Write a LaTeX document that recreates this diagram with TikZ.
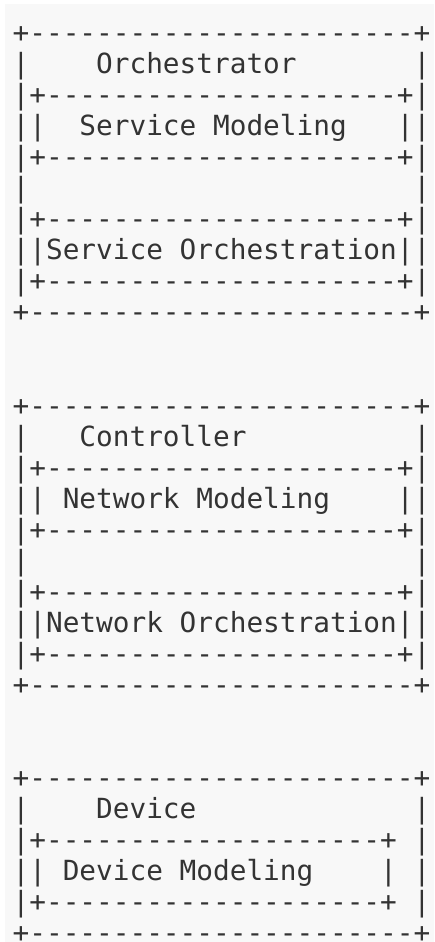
\documentclass[tikz,border=0pt]{standalone}
\usepackage{fontspec}
\setmonofont{DejaVu Sans Mono}
\usepackage{tikz}
\usetikzlibrary{positioning}
\definecolor{inkgrey}{HTML}{333333}
\definecolor{pagegrey}{HTML}{F8F8F8}
\newcommand{\asciifont}{\fontsize{13.875pt}{15.51pt}\selectfont\ttfamily}
\newcommand{\outerrule}{+-----------------------+}
\newcommand{\innerrule}{|+---------------------+|}
\newcommand{\shortrule}{|+--------------------+~|}
\newcommand{\emptyrow}{|~~~~~~~~~~~~~~~~~~~~~~~|}
\tikzset{
    layer/.style={inner sep=0pt, outer sep=0pt, font=\asciifont, text=inkgrey, anchor=north west},
}
\begin{document}
\begin{tikzpicture}
        [x=0.5pt, y=-0.5pt, node distance=31.02pt]

        \useasboundingbox (0,0) rectangle (434,942);
        \fill[pagegrey] (5,4) rectangle (434,942);

        \node[layer] (orchestrator) at (12.65,21.09) {\begin{tabular}{@{}l@{}}
            \outerrule\\
            |~~~~Orchestrator~~~~~~~|\\
            \innerrule\\
            ||~~Service~Modeling~~~||\\
            \innerrule\\
            \emptyrow\\
            \innerrule\\
            ||Service~Orchestration||\\
            \innerrule\\
            \outerrule
        \end{tabular}};
        \node[layer, below=of orchestrator] (controller) {\begin{tabular}{@{}l@{}}
            \outerrule\\
            |~~~Controller~~~~~~~~~~|\\
            \innerrule\\
            ||~Network~Modeling~~~~||\\
            \innerrule\\
            \emptyrow\\
            \innerrule\\
            ||Network~Orchestration||\\
            \innerrule\\
            \outerrule
        \end{tabular}};
        \node[layer, below=of controller] (device) {\begin{tabular}{@{}l@{}}
            \outerrule\\
            |~~~~Device~~~~~~~~~~~~~|\\
            \shortrule\\
            ||~Device~Modeling~~~~|~|\\
            \shortrule\\
            \outerrule
        \end{tabular}};

    \end{tikzpicture}
\end{document}
